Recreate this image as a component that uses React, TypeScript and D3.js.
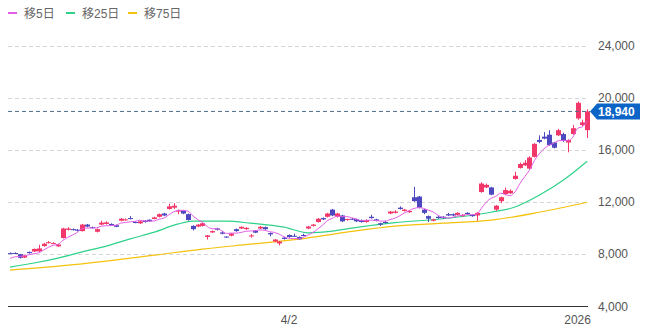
import React from 'react';
import * as d3 from 'd3';

// OHLC per session
const opens = [
  8060, 8070, 7980, 7720, 8150, 8180, 8200, 8600, 8850, 8800, 8580, 9220, 9850, 9900, 9860, 9750, 10250, 10050, 9700, 10250,
  10300, 10300, 10200, 10550, 10600, 10750, 10450, 10350, 10550, 10620, 10680, 10850, 11100, 11450, 11550, 11250, 11300, 11050, 10150, 10100,
  10150, 9300, 9650, 9950, 9650, 9330, 9400, 9900, 9950, 9900, 9350, 9780, 9950, 10050, 9600, 8950, 8800, 9250, 9450, 9390,
  9300, 9450, 9950, 10150, 10450, 10750, 10850, 11400, 10850, 10950, 10600, 10700, 10650, 10600, 10450, 10850, 10650, 10350, 10450, 11100,
  11150, 11550, 11300, 11200, 12350, 12400, 11400, 10900, 10550, 10850, 10850, 11050, 11050, 11000, 10900, 11150, 11000, 10950, 12750, 13100,
  13100, 11400, 12050, 12600, 12650, 13750, 14600, 14800, 14550, 15450, 16750, 17000, 17150, 16550, 17100, 17200, 16550, 17200, 18400, 17900,
  17500,
];
const closes = [
  8030, 8040, 7700, 7880, 8060, 8380, 8420, 8780, 8900, 8830, 8720, 9950, 9950, 9850, 9780, 10250, 10100, 9980, 9900, 10400,
  10420, 10200, 10080, 10700, 10650, 10680, 10380, 10500, 10450, 10520, 10800, 11050, 10950, 11650, 11700, 11350, 11100, 10600, 9900, 10250,
  10350, 9420, 9750, 9850, 9550, 9280, 9560, 9750, 10080, 10000, 9420, 9630, 10080, 9900, 9500, 9100, 8950, 9150, 9300, 9370,
  9120, 9400, 10100, 10250, 10700, 10650, 11100, 10950, 11100, 10500, 10680, 10650, 10500, 10450, 10600, 10750, 10550, 10250, 10400, 11250,
  11250, 11450, 11400, 11300, 12050, 11550, 11150, 10700, 10650, 10750, 10750, 10950, 10950, 11150, 11000, 11050, 10900, 11150, 13400, 13300,
  12550, 11700, 12350, 12900, 12850, 14000, 14900, 15000, 15400, 16450, 16600, 16850, 16350, 16150, 17500, 16700, 16750, 17650, 19600, 18100,
  18940,
];
const highs = [
  8110, 8120, 8000, 7920, 8180, 8420, 8700, 8850, 8980, 8900, 8780, 10000, 10050, 9950, 9900, 10300, 10300, 10100, 9950, 10550,
  10500, 10350, 10250, 10750, 10720, 10900, 10500, 10550, 10600, 10650, 10850, 11100, 11150, 11850, 11900, 11400, 11350, 11100, 10200, 10300,
  10400, 9450, 9800, 10000, 9750, 9350, 9600, 9950, 10100, 10050, 9520, 9820, 10150, 10100, 9650, 9150, 9000, 9300, 9500, 9550,
  9350, 9550, 10150, 10300, 10750, 10800, 11150, 11450, 11150, 11000, 10700, 10750, 10700, 10650, 10650, 11000, 10700, 10400, 10550, 11300,
  11350, 11650, 11450, 11350, 13150, 12450, 11450, 10950, 10700, 10900, 10900, 11150, 11100, 11200, 11050, 11200, 11050, 11200, 13500, 13400,
  13150, 11750, 12400, 13100, 12950, 14300, 15000, 15200, 15500, 16500, 17100, 17350, 17500, 16600, 17600, 17300, 16800, 17900, 19700, 18300,
  19100,
];
const lows = [
  7990, 8000, 7650, 7680, 8020, 8150, 8150, 8550, 8800, 8750, 8550, 9180, 9800, 9800, 9720, 9720, 10050, 9950, 9650, 10200,
  10250, 10150, 10050, 10500, 10550, 10650, 10350, 10300, 10400, 10480, 10650, 10800, 10900, 11400, 11450, 11050, 11050, 10550, 9800, 10050,
  10100, 9100, 9600, 9800, 9500, 9250, 9350, 9700, 9900, 9850, 9250, 9600, 9900, 9850, 9350, 8900, 8650, 9100, 9250, 9300,
  9100, 9350, 9900, 10100, 10400, 10600, 10800, 10900, 10800, 10450, 10550, 10600, 10450, 10400, 10400, 10700, 10500, 10150, 10350, 11050,
  11100, 11400, 11250, 11150, 12000, 11500, 11050, 10450, 10500, 10700, 10700, 10900, 10900, 10950, 10850, 11000, 10850, 10550, 12700, 13050,
  12500, 11300, 11900, 12500, 12600, 13700, 14550, 14750, 14500, 15400, 16500, 16800, 16300, 16100, 17050, 16600, 15800, 17150, 18300, 17800,
  16900,
];
// closes of the four sessions before the window (for the first 5-day averages)
const priorCloses = [7450, 7550, 7650, 7600];

// 25- and 75-day averages read at a few sessions
const ma25Idx = [0, 5, 10, 15, 20, 25, 30, 35, 38, 45, 50, 57, 62, 67, 71, 80, 90, 100, 105, 110, 115, 120];
const ma25Val = [6990, 7300, 7680, 8150, 8600, 9150, 9670, 10300, 10510, 10510, 10360, 10050, 9620, 9750, 9980, 10400, 10700, 11200, 11600, 12500, 13650, 15110];
const ma75Idx = [0, 10, 20, 30, 40, 50, 60, 70, 80, 90, 100, 110, 120];
const ma75Val = [6760, 7060, 7450, 7900, 8370, 8750, 9130, 9670, 10130, 10360, 10590, 11200, 11970];

const yTicks = [4000, 8000, 12000, 16000, 20000, 24000];
const xLabels = [
  { i: 58, label: '4/2' },
  { i: 118, label: '2026' },
];
const legend = [
  { name: '移5日', color: '#e35ee6' },
  { name: '移25日', color: '#2fd28a' },
  { name: '移75日', color: '#f4c20d' },
];

const UP = '#f2386a';
const DOWN = '#4d48bf';
const FONT = '"Liberation Sans", "Noto Sans CJK JP", sans-serif';

export default function App() {
  const width = 650;
  const height = 333;
  const n = closes.length;
  const idx = d3.range(n);

  const x = d3.scaleBand<number>().domain(idx).range([7.6, 589.6]);
  const cx = (i: number) => (x(i) as number) + x.bandwidth() / 2;
  const y = d3.scaleLinear().domain([4000, 24000]).range([306, 45.5]);

  const all = priorCloses.concat(closes);
  const ma5 = idx.map((i) => d3.mean(all.slice(i, i + 5)) as number);

  const line = d3
    .line<[number, number]>()
    .x((d) => cx(d[0]))
    .y((d) => y(d[1]))
    .curve(d3.curveMonotoneX);

  const last = closes[n - 1];
  const ly = y(last);

  return (
    <svg width={width} height={height} style={{ position: 'absolute', left: 0, top: 0, fontFamily: FONT }}>
      {/* legend */}
      {legend.map((l, k) => {
        const lx = [8, 66, 128][k];
        return (
          <g key={l.name}>
            <line x1={lx} x2={lx + 9} y1={13} y2={13} stroke={l.color} strokeWidth={2} />
            <text x={lx + 16} y={17.5} fontSize={12} fill="#666">
              {l.name}
            </text>
          </g>
        );
      })}

      {/* grid */}
      {yTicks.slice(1).map((t) => (
        <line key={t} x1={8} x2={588} y1={Math.round(y(t)) + 0.5} y2={Math.round(y(t)) + 0.5} stroke="#d6d6d6" strokeDasharray="4,3" />
      ))}
      <line x1={8} x2={588} y1={306.5} y2={306.5} stroke="#333" strokeWidth={1} />

      {yTicks.map((t) => (
        <text key={t} x={598} y={y(t) + 4.5} fontSize={12} fill="#555">
          {d3.format(',')(t)}
        </text>
      ))}
      {xLabels.map((l) => (
        <text key={l.label} x={cx(l.i)} y={324} fontSize={12} fill="#555" textAnchor="middle">
          {l.label}
        </text>
      ))}

      {/* moving averages */}
      <path d={line(ma75Idx.map((i, k) => [i, ma75Val[k]]))!} fill="none" stroke="#f4c20d" strokeWidth={1.2} />
      <path d={line(ma25Idx.map((i, k) => [i, ma25Val[k]]))!} fill="none" stroke="#2fd28a" strokeWidth={1.2} />

      {/* candles */}
      {idx.map((i) => {
        const up = closes[i] >= opens[i];
        const c = up ? UP : DOWN;
        const top = y(Math.max(opens[i], closes[i]));
        const bot = y(Math.min(opens[i], closes[i]));
        const xc = Math.round(cx(i)) + 0.5;
        return (
          <g key={i}>
            <line x1={xc} x2={xc} y1={y(highs[i])} y2={y(lows[i])} stroke={c} strokeWidth={1} />
            <rect x={xc - 2.5} y={top} width={5} height={Math.max(1, bot - top)} fill={c} />
          </g>
        );
      })}

      <path d={line(idx.map((i) => [i, ma5[i]]))!} fill="none" stroke="#e35ee6" strokeWidth={1} />

      {/* last price */}
      <line x1={8} x2={590} y1={ly} y2={ly} stroke="#4f6b88" strokeDasharray="4,3" />
      <path d={`M590,${ly} L597,${ly - 8} H640 V${ly + 8} H597 Z`} fill="#0b64c6" />
      <text x={598} y={ly + 4.5} fontSize={12} fontWeight="bold" fill="#fff">
        {d3.format(',')(last)}
      </text>
    </svg>
  );
}
